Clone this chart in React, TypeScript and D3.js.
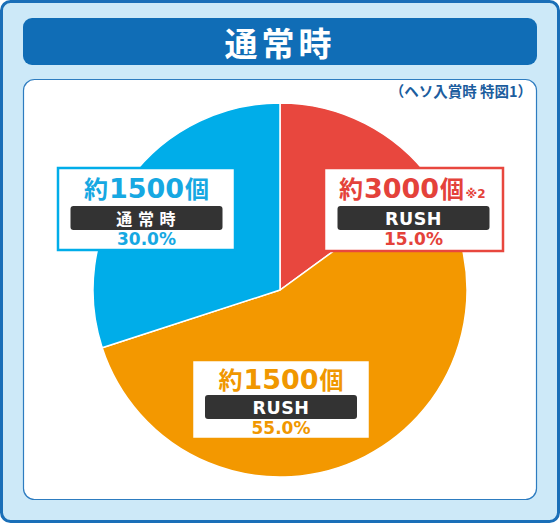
import React from "react";
import * as d3 from "d3";

// ---- data ----
const segments = ["RUSH 約3000個", "RUSH 約1500個", "通常時 約1500個"];
const shares = [15.0, 55.0, 30.0];
const payoutCounts = ["3000", "1500", "1500"];
const modes = ["RUSH", "RUSH", "通 常 時"];
const notes = ["※2", "", ""];
const sliceColors = ["#e8473e", "#f39800", "#00ade9"];
const textColors = ["#e4423a", "#f09700", "#16a8e2"];
const title = "通常時";
const caption = "（ヘソ入賞時 特図1）";

const W = 560;
const H = 524;
const CX = 280;
const CY = 290;
const R = 187;

// label box layout (center x offset, top offset, width, height, bar offset) relative to pie center
const boxLayout = [
  { dx: 133.5, top: -122, w: 179, h: 83, bar: 38, main: 30 },
  { dx: 1, top: 70, w: 178, h: 79, bar: 35, main: 29 },
  { dx: -133.5, top: -122, w: 177, h: 82, bar: 38, main: 30 },
];

const JP = "'Noto Sans CJK JP', 'Noto Sans', sans-serif";
const NUM = "'DejaVu Sans', 'Noto Sans CJK JP', sans-serif";

export default function App() {
  const pie = d3
    .pie<number>()
    .value((d) => d)
    .sort(null)
    .startAngle(0)
    .endAngle(2 * Math.PI);
  const arcs = pie(shares);
  const arcGen = d3.arc<d3.PieArcDatum<number>>().innerRadius(0).outerRadius(R);

  return (
    <svg
      width={W}
      height={H}
      viewBox={`0 0 ${W} ${H}`}
      style={{ position: "absolute", left: 0, top: 0, display: "block" }}
    >
      {/* outer frame */}
      <rect x={1.5} y={1.5} width={W - 3} height={H - 4} rx={9} fill="#cde9f8" stroke="#1a6fb8" strokeWidth={3} />
      {/* title bar */}
      <rect x={23} y={18} width={514} height={47} rx={9} fill="#106db6" />
      <text
        x={W / 2}
        y={42}
        textAnchor="middle"
        dominantBaseline="central"
        fill="#fff"
        fontFamily={JP}
        fontWeight={700}
        fontSize={33}
        letterSpacing={4}
      >
        {title}
      </text>
      {/* inner panel */}
      <rect x={23.5} y={79.5} width={513} height={420} rx={11} fill="#fff" stroke="#2d7cc0" strokeWidth={1.2} />
      <text x={532} y={97} textAnchor="end" fill="#1c5d9e" fontFamily={JP} fontWeight={700} fontSize={14.5}>
        {caption}
      </text>

      {/* pie */}
      <g transform={`translate(${CX},${CY})`}>
        {arcs.map((a, i) => (
          <path key={segments[i]} d={arcGen(a) || ""} fill={sliceColors[i]} stroke="#fff" strokeWidth={1.5} />
        ))}
      </g>

      {/* labels */}
      {arcs.map((a, i) => {
        const b = boxLayout[i];
        const cx = CX + b.dx;
        const top = CY + b.top;
        const col = textColors[i];
        const barTop = top + b.bar;
        const isRush = modes[i] === "RUSH";
        return (
          <g key={"lab" + i}>
            <rect
              x={cx - b.w / 2}
              y={top}
              width={b.w}
              height={b.h}
              fill="#fff"
              stroke={sliceColors[i]}
              strokeWidth={2.5}
            />
            <text
              x={notes[i] ? cx - 12 : cx}
              y={top + b.main}
              textAnchor="middle"
              fill={col}
              fontWeight={700}
            >
              <tspan fontFamily={JP} fontSize={24}>約</tspan>
              <tspan fontFamily={NUM} fontSize={27} dx={1}>{payoutCounts[i]}</tspan>
              <tspan fontFamily={JP} fontSize={24} dx={1}>個</tspan>
            </text>
            {notes[i] && (
              <text x={cx + 52} y={top + b.main} fill={col} fontFamily={NUM} fontWeight={700} fontSize={12}>
                {notes[i]}
              </text>
            )}
            <rect x={cx - 76} y={barTop} width={152} height={24} rx={3} fill="#333333" />
            <text
              x={cx}
              y={barTop + 19}
              textAnchor="middle"
              fill="#fff"
              fontFamily={isRush ? NUM : JP}
              fontWeight={700}
              fontSize={isRush ? 17.5 : 16}
              letterSpacing={isRush ? 0.5 : 1}
            >
              {modes[i]}
            </text>
            <text
              x={cx}
              y={barTop + 38.5}
              textAnchor="middle"
              fill={col}
              fontFamily={NUM}
              fontWeight={700}
              fontSize={17}
            >
              {shares[i].toFixed(1) + "%"}
            </text>
          </g>
        );
      })}
    </svg>
  );
}
